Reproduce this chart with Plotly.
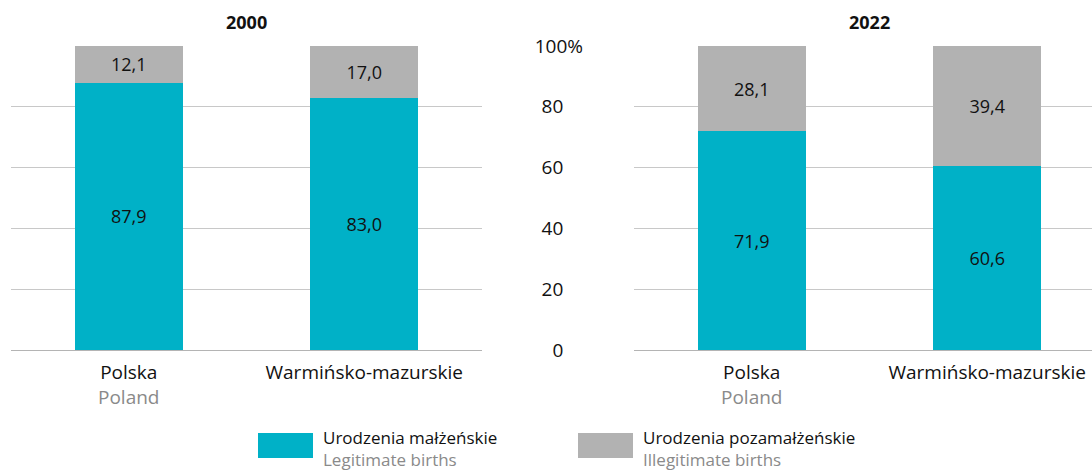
import plotly.graph_objects as go

# Birth shares by marital status (%), Polska vs Warmińsko-mazurskie
regions_pl = ["Polska", "Warmińsko-mazurskie"]
regions_en = ["Poland", ""]
legit_2000 = [87.9, 83.0]
illeg_2000 = [12.1, 17.0]
legit_2022 = [71.9, 60.6]
illeg_2022 = [28.1, 39.4]
years = ["2000", "2022"]
y_ticks = [0, 20, 40, 60, 80, 100]
y_ticktext = ["0", "20", "40", "60", "80", "100%"]
series_pl = ["Urodzenia małżeńskie", "Urodzenia pozamałżeńskie"]
series_en = ["Legitimate births", "Illegitimate births"]

TEAL = "#00B1C7"
GREY = "#B2B2B2"
GRID = "#C8C8C8"
SUB = "#8A8A8A"
INK = "#111111"
FONT = "Open Sans"
W, H = 1092, 470

def fmt(v):
    return f"{v:.1f}".replace(".", ",")

cat_idx = [0, 1]
ticktext = [
    f"{pl}<br><span style='color:{SUB}'>{en}</span>" if en else pl
    for pl, en in zip(regions_pl, regions_en)
]

fig = go.Figure()
panels = [("x", "y", legit_2000, illeg_2000), ("x2", "y2", legit_2022, illeg_2022)]
for xa, ya, legit, illeg in panels:
    for vals, col in ((legit, TEAL), (illeg, GREY)):
        fig.add_trace(go.Bar(
            x=cat_idx, y=vals, xaxis=xa, yaxis=ya,
            marker=dict(color=col, line=dict(width=0)),
            width=0.46,
            text=[fmt(v) for v in vals],
            textposition="inside", insidetextanchor="middle",
            textangle=0,
            textfont=dict(family=FONT, size=18, color=INK),
            showlegend=False, hoverinfo="skip",
        ))

y_dom = [(H - 350) / H, (H - 46) / H]
common_x = dict(
    tickmode="array", tickvals=cat_idx, ticktext=ticktext,
    showgrid=False, zeroline=False, showline=False, ticks="",
    tickfont=dict(family=FONT, size=19, color=INK),
    automargin=False, ticklabelstandoff=9,
)
common_y = dict(
    range=[0, 100], showgrid=True, gridcolor=GRID,
    gridwidth=1, zeroline=True, zerolinecolor="#B4B4B4", zerolinewidth=1,
    showline=False, ticks="", domain=y_dom, automargin=False,
    tickmode="array", tickvals=y_ticks,
)
fig.update_layout(
    barmode="stack",
    width=W, height=H,
    margin=dict(l=0, r=0, t=0, b=0, autoexpand=False),
    paper_bgcolor="white", plot_bgcolor="white",
    font=dict(family=FONT, size=16, color=INK),
    xaxis=dict(domain=[11 / W, 482 / W], range=[-0.5, 1.5], anchor="y", **common_x),
    xaxis2=dict(domain=[634 / W, 1.0], range=[-0.5, 1.445], anchor="y2", **common_x),
    yaxis=dict(anchor="x", showticklabels=False, **common_y),
    yaxis2=dict(anchor="x2", showticklabels=True,
                ticktext=[t if t.endswith("%") else t + "\u00a0\u00a0\u00a0\u00a0" for t in y_ticktext],
                tickfont=dict(family=FONT, size=19, color=INK),
                ticklabelstandoff=50, **common_y),
)

# Panel titles
for xa, yr in (("x", years[0]), ("x2", years[1])):
    fig.add_annotation(x=0.5, y=(H - 22) / H, xref=xa, yref="paper",
                       text=f"<b>{yr}</b>", showarrow=False,
                       font=dict(family=FONT, size=18, color=INK),
                       xanchor="center", yanchor="middle")

# Legend
legend_items = [(258, TEAL), (578, GREY)]
for (x0, col), pl, en in zip(legend_items, series_pl, series_en):
    fig.add_shape(type="rect", xref="paper", yref="paper",
                  x0=x0 / W, x1=(x0 + 55) / W,
                  y0=(H - 458) / H, y1=(H - 433) / H,
                  fillcolor=col, line=dict(width=0))
    fig.add_annotation(x=(x0 + 63) / W, y=(H - 448) / H, xref="paper", yref="paper",
                       text=f"{pl}<br><span style='color:{SUB}'>{en}</span>",
                       showarrow=False, align="left", xanchor="left", yanchor="middle",
                       font=dict(family=FONT, size=17, color=INK))

fig.write_html("out.html")
